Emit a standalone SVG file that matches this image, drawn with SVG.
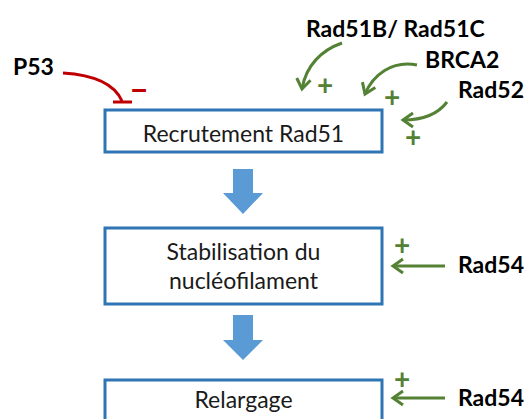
<svg xmlns="http://www.w3.org/2000/svg" width="531" height="419" viewBox="0 0 531 419">
<style>
.box{fill:#fff;stroke:#2E75B6;stroke-width:3}
.t{font-family:Lato,"Liberation Sans",sans-serif;font-size:23px;fill:#1a1a1a;text-anchor:middle}
.lb{font-family:Lato,"Liberation Sans",sans-serif;font-size:23px;font-weight:bold;fill:#000}
.g{fill:none;stroke:#548235;stroke-width:3}
.plus{font-family:Lato,"Liberation Sans",sans-serif;font-size:28px;font-weight:bold;fill:#548235;text-anchor:middle}
.blk{fill:#5B9BD5}
</style>
<defs>
<marker id="ga" markerUnits="userSpaceOnUse" viewBox="-14 -10 18 20" refX="0" refY="0" markerWidth="18" markerHeight="20" orient="auto">
<path d="M-10,-7 L0,0 L-10,7" fill="none" stroke="#548235" stroke-width="3"/>
</marker>
</defs>
<g id="n-recrutement">
<rect class="box" x="105" y="110" width="277" height="42"/>
<text class="t" x="243.5" y="142">Recrutement Rad51</text>
</g>
<g id="n-stabilisation">
<rect class="box" x="105" y="228" width="277" height="76"/>
<text class="t" x="243.5" y="260">Stabilisation du</text>
<text class="t" x="243.5" y="289">nucléofilament</text>
</g>
<g id="n-relargage">
<rect class="box" x="105" y="380" width="277" height="60"/>
<text class="t" x="243.5" y="408">Relargage</text>
</g>
<g id="n-p53"><text class="lb" x="13" y="75">P53</text></g>
<g id="n-rad51bc"><text class="lb" x="306" y="37">Rad51B/ Rad51C</text></g>
<g id="n-brca2"><text class="lb" x="425" y="68">BRCA2</text></g>
<g id="n-rad52"><text class="lb" x="458" y="98">Rad52</text></g>
<g id="n-rad54a"><text class="lb" x="458" y="273">Rad54</text></g>
<g id="n-rad54b"><text class="lb" x="458" y="406">Rad54</text></g>
<g id="connectors">
<polygon class="blk" points="233,169 253,169 253,193 263,193 243,214 223,193 233,193"/>
<polygon class="blk" points="233,315 253,315 253,340 263,340 243,360 223,340 233,340"/>
<path d="M63,73 C95,75 115,85 122,101" fill="none" stroke="#C00000" stroke-width="3"/>
<line x1="113" y1="102" x2="132" y2="102" stroke="#C00000" stroke-width="3"/>
<text x="139" y="101" font-family="Lato,'Liberation Sans',sans-serif" font-size="34" font-weight="bold" fill="#C00000" text-anchor="middle">–</text>
<path class="g" d="M342,43 C322,50 306,65 302,89" marker-end="url(#ga)"/>
<text class="plus" x="325" y="95">+</text>
<path class="g" d="M417,65 C392,60 373,75 365,94" marker-end="url(#ga)"/>
<text class="plus" x="392" y="107">+</text>
<path class="g" d="M447,102 C438,114 422,120 403,120" marker-end="url(#ga)"/>
<text class="plus" x="413" y="147">+</text>
<line class="g" x1="445" y1="266" x2="393" y2="266" marker-end="url(#ga)"/>
<text class="plus" x="402" y="255">+</text>
<line class="g" x1="445" y1="398" x2="393" y2="398" marker-end="url(#ga)"/>
<text class="plus" x="402" y="389">+</text>
</g>
</svg>
